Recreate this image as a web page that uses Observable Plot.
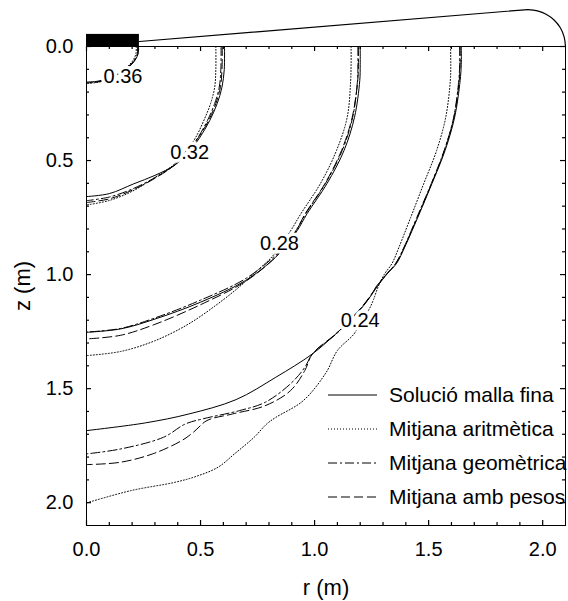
<!DOCTYPE html>
<html><head><meta charset="utf-8">
<script src="https://cdn.jsdelivr.net/npm/d3@7"></script>
<script src="https://cdn.jsdelivr.net/npm/@observablehq/plot@0.6"></script>
<style>
body{margin:0;background:#fff;}
#chart{position:relative;width:568px;height:601px;}
#legend{position:absolute;left:0;top:0;pointer-events:none;}
</style></head><body><div id="chart"></div>
<script>
// Series (legend) names
const seriesNames = ["Solució malla fina", "Mitjana aritmètica", "Mitjana geomètrica", "Mitjana amb pesos"];
const seriesKeys = ["fine", "arit", "geom", "pesos"];
// contour levels and label positions [r, z]
const levelLabels = ["0.36", "0.32", "0.28", "0.24"];
const labelR = [0.16, 0.452, 0.846, 1.20];
const labelZ = [0.134, 0.463, 0.864, 1.20];

// Contour lines, [r (m), z (m)]
const fine36 = [[0.228,0],[0.227,0.03],[0.216,0.055],[0.2,0.076],[0.16,0.108],[0.1,0.138],[0.05,0.152],[0,0.156]];
const arit36 = [[0.218,0],[0.217,0.03],[0.207,0.056],[0.19,0.078],[0.15,0.112],[0.1,0.142],[0.05,0.157],[0,0.162]];
const geom36 = [[0.224,0],[0.223,0.03],[0.212,0.056],[0.196,0.077],[0.155,0.11],[0.1,0.14],[0.05,0.154],[0,0.159]];
const pesos36 = [[0.226,0],[0.225,0.03],[0.214,0.056],[0.198,0.077],[0.157,0.11],[0.1,0.141],[0.05,0.155],[0,0.16]];

const fine32 = [[0.605,0],[0.604,0.1],[0.594,0.178],[0.573,0.25],[0.54,0.325],[0.496,0.40],[0.45,0.46],[0.39,0.518],[0.30,0.565],[0.207,0.602],[0.10,0.645],[0,0.658]];
const arit32 = [[0.567,0],[0.567,0.1],[0.562,0.178],[0.544,0.25],[0.514,0.325],[0.478,0.40],[0.435,0.46],[0.38,0.52],[0.29,0.58],[0.2,0.635],[0.1,0.675],[0,0.695]];
const geom32 = [[0.59,0],[0.589,0.1],[0.582,0.178],[0.562,0.25],[0.53,0.325],[0.488,0.40],[0.443,0.46],[0.385,0.52],[0.30,0.575],[0.2,0.625],[0.1,0.66],[0,0.676]];
const pesos32 = [[0.595,0],[0.594,0.1],[0.587,0.178],[0.567,0.25],[0.535,0.325],[0.49,0.40],[0.445,0.46],[0.386,0.52],[0.30,0.578],[0.2,0.63],[0.1,0.668],[0,0.684]];

const fine28 = [[1.2,0],[1.2,0.08],[1.198,0.15],[1.175,0.31],[1.129,0.456],[1.055,0.6],[0.967,0.733],[0.924,0.807],[0.88,0.865],[0.829,0.924],[0.697,1.026],[0.5,1.121],[0.3,1.195],[0.15,1.238],[0,1.253]];
const arit28 = [[1.16,0],[1.16,0.08],[1.158,0.15],[1.143,0.31],[1.096,0.456],[1.026,0.6],[0.94,0.733],[0.9,0.8],[0.86,0.86],[0.815,0.92],[0.74,0.99],[0.68,1.045],[0.6,1.11],[0.45,1.215],[0.3,1.29],[0.15,1.337],[0,1.355]];
const geom28 = [[1.19,0],[1.19,0.08],[1.188,0.15],[1.167,0.31],[1.121,0.456],[1.048,0.6],[0.961,0.733],[0.92,0.805],[0.876,0.862],[0.826,0.918],[0.697,1.018],[0.5,1.112],[0.3,1.19],[0.15,1.236],[0,1.252]];
const pesos28 = [[1.192,0],[1.192,0.08],[1.189,0.15],[1.165,0.31],[1.118,0.456],[1.046,0.6],[0.959,0.733],[0.918,0.808],[0.874,0.866],[0.826,0.926],[0.697,1.03],[0.5,1.132],[0.3,1.218],[0.15,1.266],[0,1.282]];

const fine24 = [[1.643,0],[1.643,0.08],[1.638,0.15],[1.614,0.31],[1.572,0.456],[1.515,0.6],[1.452,0.75],[1.395,0.88],[1.36,0.95],[1.318,0.997],[1.28,1.045],[1.215,1.136],[1.15,1.205],[1.093,1.26],[0.99,1.348],[0.83,1.45],[0.656,1.548],[0.449,1.611],[0.259,1.65],[0,1.684]];
const arit24 = [[1.596,0],[1.597,0.08],[1.595,0.15],[1.575,0.31],[1.535,0.456],[1.479,0.6],[1.421,0.75],[1.37,0.88],[1.34,0.95],[1.305,1.0],[1.28,1.05],[1.258,1.11],[1.24,1.15],[1.2,1.21],[1.173,1.26],[1.10,1.333],[1.05,1.43],[0.95,1.553],[0.83,1.626],[0.79,1.655],[0.735,1.713],[0.65,1.785],[0.576,1.845],[0.48,1.885],[0.386,1.911],[0.195,1.947],[0,2.001]];
const geom24 = [[1.636,0],[1.636,0.08],[1.632,0.15],[1.61,0.31],[1.568,0.456],[1.512,0.6],[1.448,0.75],[1.392,0.88],[1.356,0.95],[1.316,0.997],[1.272,1.05],[1.255,1.08],[1.21,1.14],[1.14,1.215],[1.093,1.262],[0.99,1.348],[0.957,1.407],[0.894,1.479],[0.783,1.56],[0.672,1.596],[0.512,1.632],[0.433,1.655],[0.338,1.713],[0.147,1.765],[0,1.786]];
const pesos24 = [[1.638,0],[1.638,0.08],[1.634,0.15],[1.611,0.31],[1.569,0.456],[1.513,0.6],[1.45,0.75],[1.393,0.88],[1.357,0.95],[1.317,0.997],[1.276,1.047],[1.25,1.085],[1.21,1.138],[1.145,1.21],[1.093,1.26],[0.99,1.348],[0.957,1.421],[0.894,1.509],[0.783,1.575],[0.64,1.611],[0.528,1.64],[0.47,1.69],[0.417,1.728],[0.29,1.786],[0.147,1.823],[0,1.833]];

// Top geometry (electrode block and surface outline), [r, z]
const blockR = [0, 0.232];
const blockZ = [-0.053, 0];
const surfaceR = [0.232, 1.934];
const surfaceZ = [-0.022, -0.162];
const cornerR = [1.934, 1.977, 2.017, 2.051, 2.078, 2.094, 2.100];
const cornerZ = [-0.162, -0.156, -0.140, -0.115, -0.081, -0.042, 0];

// Axis ticks
const majorTicks = [0, 0.5, 1.0, 1.5, 2.0];
const minorTicks = [0.1,0.2,0.3,0.4,0.6,0.7,0.8,0.9,1.1,1.2,1.3,1.4,1.6,1.7,1.8,1.9];

// ---- build tables ----
const contours = {
  fine: [fine36, fine32, fine28, fine24],
  arit: [arit36, arit32, arit28, arit24],
  geom: [geom36, geom32, geom28, geom24],
  pesos: [pesos36, pesos32, pesos28, pesos24]
};
function rows(key) {
  const out = [];
  contours[key].forEach((pts, li) => pts.forEach(([r, z]) => out.push({r, z, level: levelLabels[li]})));
  return out;
}
const dashes = {fine: null, arit: "1,2", geom: "9,3,2,3", pesos: "9,4"};
const labelRows = levelLabels.map((t, i) => ({t, r: labelR[i], z: labelZ[i]}));
const surfaceRows = surfaceR.map((r, i) => ({r, z: surfaceZ[i]}));
const cornerRows = cornerR.map((r, i) => ({r, z: cornerZ[i]}));
const fmt = d3.format(".1f");
const FONT = "'Liberation Sans', Arial, Helvetica, sans-serif";

const W = 568, H = 601, ML = 86, MR = 3, MT = 46, MB = 76;
const FW = W - ML - MR, FH = H - MT - MB; // frame size in px

const lineMarks = seriesKeys.map(k => Plot.line(rows(k), {
  x: "r", y: "z", z: "level", stroke: "black", strokeWidth: 1,
  strokeDasharray: dashes[k], curve: "catmull-rom"
}));

// inward tick marks on all four sides (insets leave only a short stub)
function ticks(values, len) {
  const st = {stroke: "black", strokeWidth: 1.2};
  return [
    Plot.tickX(values, {x: d => d, insetTop: FH - len, ...st}),
    Plot.tickX(values, {x: d => d, insetBottom: FH - len, ...st}),
    Plot.tickY(values, {y: d => d, insetRight: FW - len, ...st}),
    Plot.tickY(values, {y: d => d, insetLeft: FW - len, ...st})
  ];
}

const plot = Plot.plot({
  width: W, height: H,
  marginLeft: ML, marginRight: MR, marginTop: MT, marginBottom: MB,
  style: {fontFamily: FONT, fontSize: "20px", color: "#000", background: "#fff", overflow: "visible"},
  x: {domain: [0, 2.1], axis: null},
  y: {domain: [0, 2.1], reverse: true, axis: null},
  marks: [
    ...lineMarks,
    Plot.text(labelRows, {x: "r", y: "z", text: "t", fontSize: 20, fill: "black",
      stroke: "white", strokeWidth: 7, paintOrder: "stroke"}),
    Plot.rect([0], {x1: blockR[0], x2: blockR[1], y1: blockZ[0], y2: blockZ[1], fill: "black"}),
    Plot.line(surfaceRows, {x: "r", y: "z", stroke: "black", strokeWidth: 1.2}),
    Plot.line(cornerRows, {x: "r", y: "z", stroke: "black", strokeWidth: 1.2, curve: "catmull-rom"}),
    Plot.frame({stroke: "black"}),
    ...ticks(minorTicks, 3),
    ...ticks(majorTicks, 5),
    // tick labels
    Plot.axisX(majorTicks, {anchor: "bottom", tickSize: 0, tickPadding: 16, tickFormat: fmt, label: null, fontSize: 20}),
    Plot.axisY(majorTicks, {anchor: "left", tickSize: 0, tickPadding: 13, tickFormat: fmt, label: null, fontSize: 20}),
    // axis titles
    Plot.text(["r (m)"], {frameAnchor: "bottom", dy: 62, text: d => d, fontSize: 22, lineAnchor: "middle", textAnchor: "middle"}),
    Plot.text(["z (m)"], {frameAnchor: "left", dx: -64, text: d => d, fontSize: 22, rotate: -90, lineAnchor: "middle", textAnchor: "middle"})
  ]
});
const chart = document.getElementById("chart");
chart.appendChild(plot);

// legend overlay
const leg = d3.select(chart).append("svg").attr("id", "legend")
  .attr("width", W).attr("height", H)
  .style("font-family", FONT).style("font-size", "21px");
const legTop = 395, legStep = 34;
seriesKeys.forEach((k, i) => {
  const y = legTop + i * legStep;
  leg.append("line").attr("x1", 328).attr("x2", 377).attr("y1", y).attr("y2", y)
    .attr("stroke", "black").attr("stroke-width", 1)
    .attr("stroke-dasharray", dashes[k]);
  leg.append("text").attr("x", 389).attr("y", y).attr("dy", "0.35em")
    .attr("fill", "black").text(seriesNames[i]);
});
</script></body></html>
